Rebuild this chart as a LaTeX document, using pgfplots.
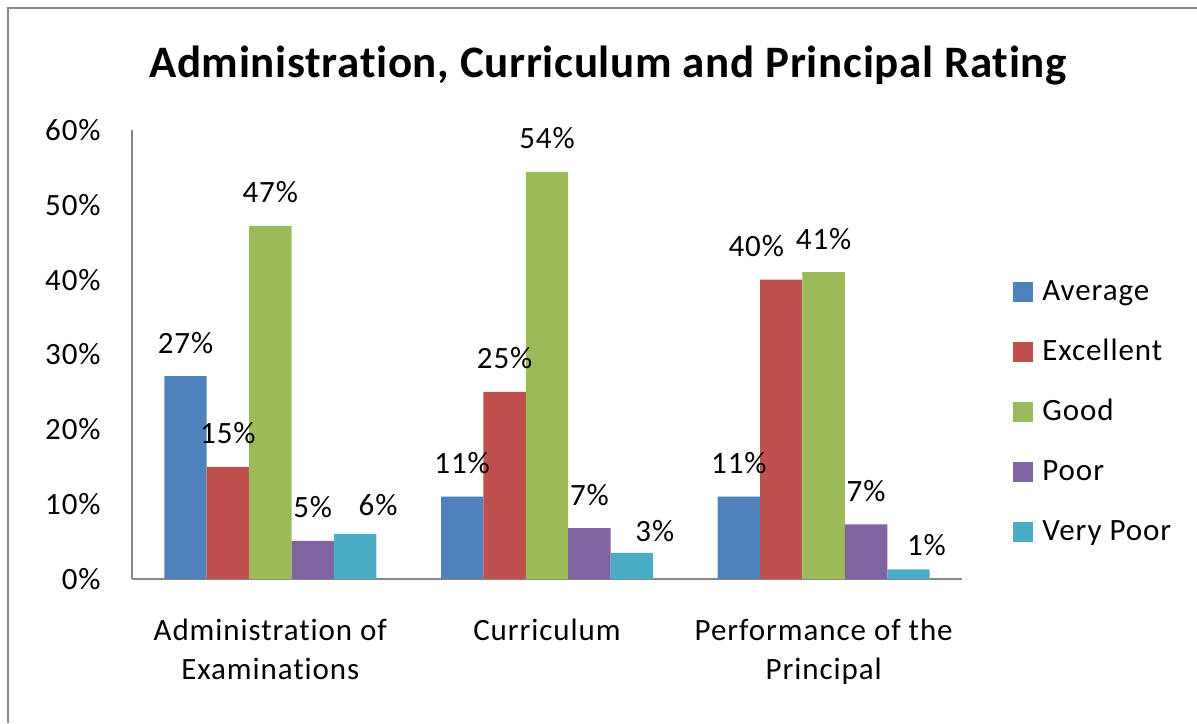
\documentclass[border=0pt]{standalone}
\usepackage{pgfplots}
\pgfplotsset{compat=1.18}
\usepackage{fontspec}
\setmainfont{Carlito}[Ligatures=NoCommon]
\newfontfamily\lblfont{Carlito}[LetterSpace=3, Ligatures=NoCommon]
\newfontfamily\ttlfont{Carlito}[LetterSpace=1.5, Ligatures=NoCommon]
\definecolor{cAvg}{HTML}{4F81BD}
\definecolor{cExc}{HTML}{C0504D}
\definecolor{cGood}{HTML}{9BBB59}
\definecolor{cPoor}{HTML}{8064A2}
\definecolor{cVPoor}{HTML}{4BACC6}
\definecolor{axgray}{HTML}{878787}
\newcommand{\lbl}{\lblfont\fontsize{15.5}{19.5}\selectfont}
\begin{document}
\begin{tikzpicture}
\useasboundingbox (0,0) rectangle (598.5pt,361.5pt);
\draw[axgray, line width=1pt] (4pt,0) -- (4pt,357.5pt) -- (598.5pt,357.5pt);
\node[anchor=base, font=\ttlfont\bfseries\fontsize{22.5}{27}\selectfont] at (304pt,322.5pt)
  {Administration, Curriculum and Principal Rating};
\begin{axis}[
  at={(66pt,72pt)}, anchor=south west,
  scale only axis, width=415pt, height=224.5pt,
  ybar=0pt, bar width=21.2pt,
  xmin=-0.5, xmax=2.5, ymin=0, ymax=60,
  axis lines*=left,
  axis line style={axgray, line width=0.75pt},
  major tick length=0pt,
  xtick=data,
  xticklabels={{Administration of\\Examinations},{Curriculum},{Performance of the\\Principal}},
  xticklabel style={align=center, anchor=north, inner sep=0pt, yshift=-20pt, font=\lbl},
  ytick={0,10,...,60},
  yticklabel={\pgfmathprintnumber{\tick}\%},
  yticklabel style={anchor=east, inner sep=0pt, xshift=-15.5pt, font=\lbl},
  /pgf/number format/assume math mode=true,
  point meta=explicit symbolic,
  nodes near coords,
  every node near coord/.append style={anchor=base, yshift=11.5pt, inner sep=0pt, font=\lbl, text=black},
  legend cell align=left,
  legend image code/.code={\fill[#1,draw=none] (0pt,-5pt) rectangle (10pt,5pt);},
  legend style={at={(1.0614,0.666)}, anchor=north west, draw=none, fill=none,
    inner sep=0pt, row sep=18pt, font=\lbl,
    nodes={inner sep=0pt, text height=10pt, text depth=2pt},
    /tikz/every odd column/.append style={column sep=4.5pt}},
]
\addplot[fill=cAvg, draw=none] coordinates {(0,27.1) [27\%] (1,11) [11\%] (2,11) [11\%]};
\addlegendentry{Average}
\addplot[fill=cExc, draw=none, coordinate style/.condition={\coordindex==2}{xshift=-12.5pt}]
  coordinates {(0,15) [15\%] (1,25) [25\%] (2,40) [40\%]};
\addlegendentry{Excellent}
\addplot[fill=cGood, draw=none] coordinates {(0,47.2) [47\%] (1,54.4) [54\%] (2,41) [41\%]};
\addlegendentry{Good}
\addplot[fill=cPoor, draw=none] coordinates {(0,5.1) [5\%] (1,6.8) [7\%] (2,7.3) [7\%]};
\addlegendentry{Poor}
\addplot[fill=cVPoor, draw=none,
  coordinate style/.condition={\coordindex==0}{xshift=11.5pt, yshift=-2pt},
  coordinate style/.condition={\coordindex==1}{xshift=11.5pt, yshift=-6pt},
  coordinate style/.condition={\coordindex==2}{xshift=9pt, yshift=-4.75pt}]
  coordinates {(0,6) [6\%] (1,3.5) [3\%] (2,1.3) [1\%]};
\addlegendentry{Very Poor}
\end{axis}
\end{tikzpicture}
\end{document}
